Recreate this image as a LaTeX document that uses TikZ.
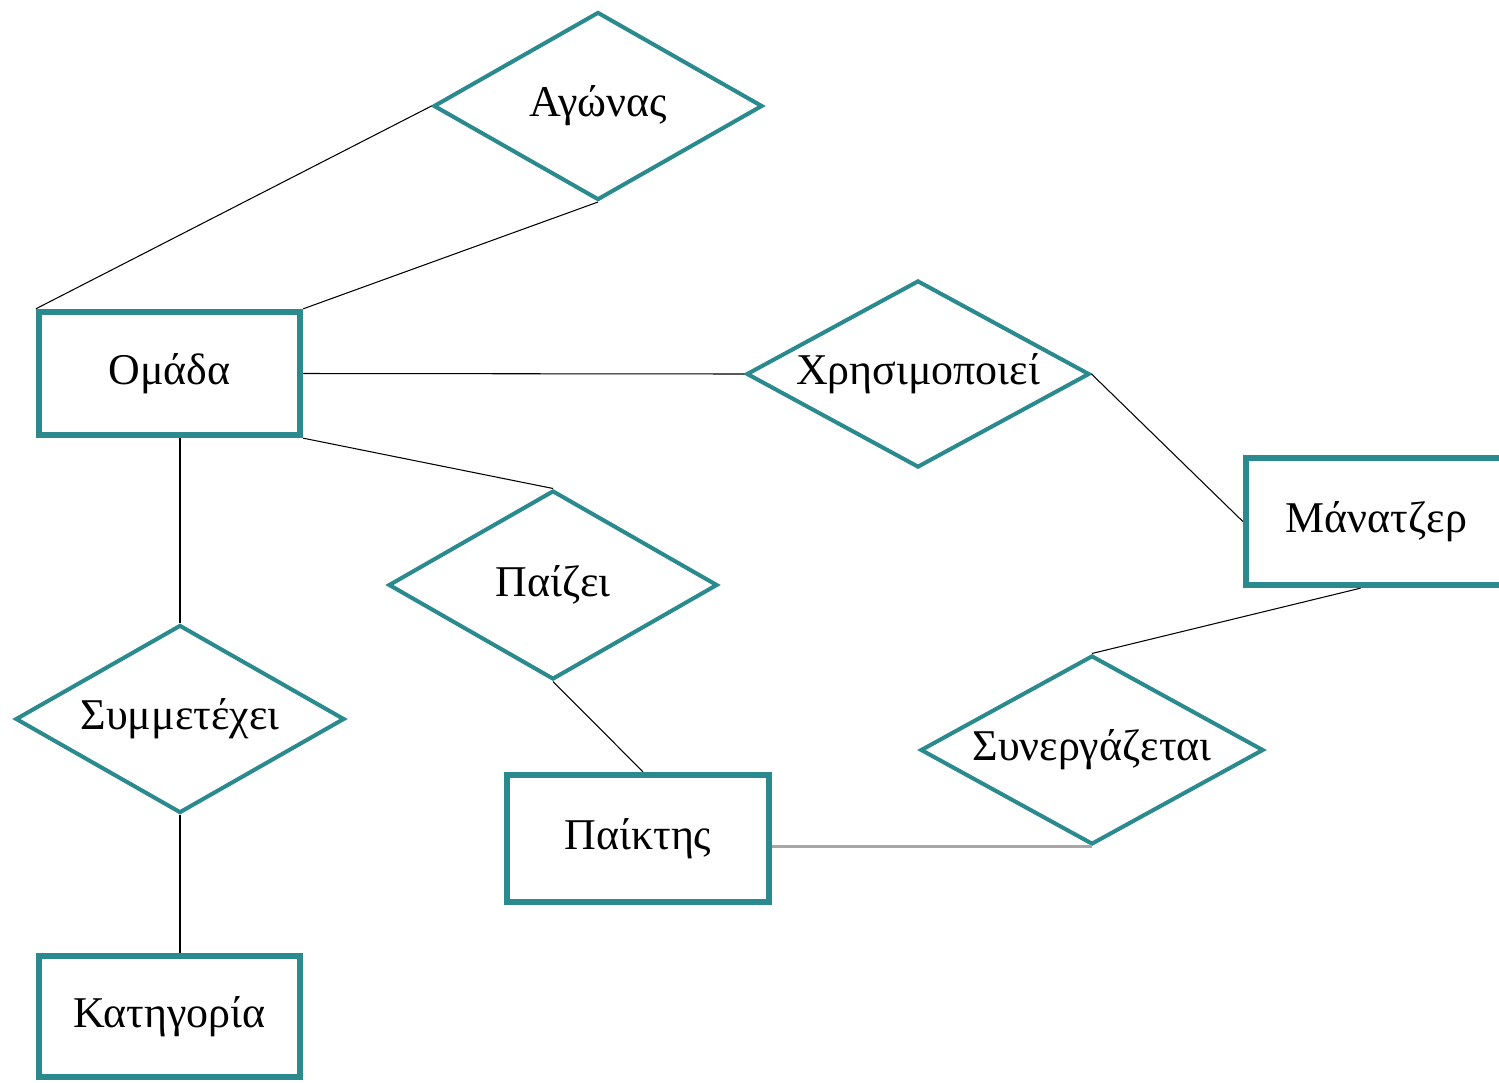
\documentclass[tikz,border=0pt]{standalone}
\usepackage{fontspec}
\setmainfont{Liberation Serif}
\usepackage{tikz}
\usetikzlibrary{shapes.geometric, positioning}
\definecolor{erteal}{RGB}{42,138,142}
\tikzstyle{entity} = [rectangle, draw=erteal, line width=3.6pt, minimum width=5.22cm, minimum height=2.46cm, inner sep=0pt, text centered, font=\fontsize{25}{30}\selectfont]

\begin{document}
\begin{tikzpicture}[node distance=2cm]
        \tikzstyle{relation} = [diamond, draw=erteal, line width=2.3pt, shape aspect=1.8, minimum width=6.58cm, minimum height=3.76cm, inner sep=0pt, text centered, font=\fontsize{25}{30}\selectfont]
        \tikzstyle{link} = [draw=black, line width=0.6pt]
        \useasboundingbox (0,0) rectangle (29.98,-21.64);

        \node[entity] (omada) at (3.39,-7.47) {Ομάδα};
        \node[entity, below of=omada, node distance=12.86cm, minimum height=2.42cm] (kategoria) {Κατηγορία};
        \node[entity, minimum width=5.24cm, minimum height=2.54cm] (paiktis) at (12.76,-16.77) {Παίκτης};
        \node[entity, right of=omada, node distance=24.14cm, yshift=-2.96cm, minimum height=2.54cm] (manager) {Μάνατζερ};

        \node[relation] (agonas) at (11.96,-2.12) {Αγώνας};
        \node[relation, minimum width=6.86cm, minimum height=3.74cm] (xrisi) at (18.36,-7.48) {Χρησιμοποιεί};
        \node[relation, minimum height=3.78cm] (paizei) at (11.06,-11.70) {Παίζει};
        \node[relation, below of=omada, node distance=6.91cm, xshift=0.21cm] (symmet) {Συμμετέχει};
        \node[relation, minimum width=6.86cm, minimum height=3.78cm] (synerg) at (21.84,-15.00) {Συνεργάζεται};

        \draw[link] (omada.north west) -- (agonas.west);
        \draw[link] (omada.north east) -- (agonas.south);
        \draw[link] (omada.east) -- (xrisi.west);
        \draw[link] (omada.south east) -- (paizei.north);
        \draw[link] (symmet.north |- omada.south) -- (symmet.north);
        \draw[link] (symmet.south) -- (kategoria.north -| symmet.south);
        \draw[link] (paizei.south) -- ([xshift=0.1cm]paiktis.north);
        \draw[link] (xrisi.east) -- (manager.west);
        \draw[link] ([xshift=-0.32cm]manager.south) -- (synerg.north);
        \draw[draw=black!35, line width=1.6pt] (paiktis.east |- synerg.south) -- (synerg.south);

    \end{tikzpicture}
\end{document}
